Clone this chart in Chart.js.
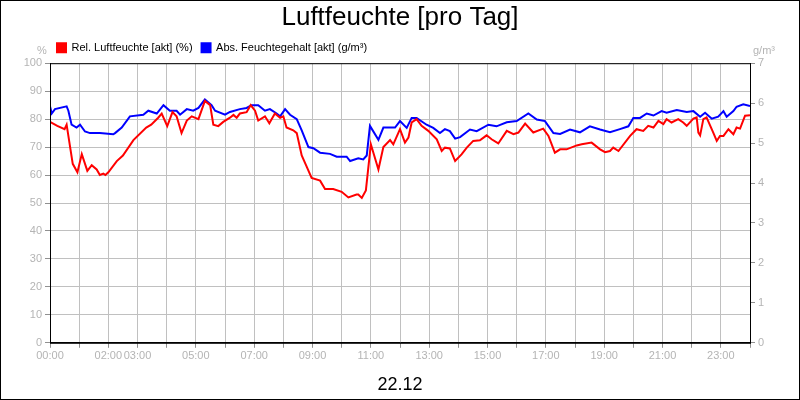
<!DOCTYPE html>
<html>
<head>
<meta charset="utf-8">
<script src="https://cdn.jsdelivr.net/npm/chart.js@4"></script>
<style>
  body { margin: 0; background: #fff; }
  #wrap { width: 800px; height: 400px; }
</style>
</head>
<body>
<div id="wrap"><canvas id="myChart"></canvas></div>
<script>
// relative humidity (%) - left axis
const redHours = [0, 0.25, 0.5, 0.57, 0.78, 0.94, 1.09, 1.28, 1.43, 1.6, 1.71, 1.83, 1.9, 2.0, 2.29, 2.5, 2.86, 3.3, 3.47, 3.71, 3.83, 4.02, 4.2, 4.34, 4.51, 4.69, 4.86, 5.09, 5.31, 5.49, 5.6, 5.77, 5.94, 6.17, 6.29, 6.4, 6.51, 6.74, 6.88, 7.03, 7.14, 7.37, 7.52, 7.71, 7.89, 8.0, 8.11, 8.34, 8.46, 8.63, 8.8, 8.97, 9.26, 9.43, 9.71, 10.0, 10.23, 10.51, 10.57, 10.69, 10.83, 11.0, 11.26, 11.43, 11.66, 11.77, 12.0,
  12.17, 12.29, 12.4, 12.57, 12.74, 12.97, 13.26, 13.43, 13.54, 13.71, 13.89, 14.11, 14.29, 14.51, 14.74, 14.97, 15.14, 15.37, 15.66, 15.89, 16.06, 16.29, 16.57, 16.91, 17.09, 17.31, 17.49, 17.71, 18.06, 18.23, 18.57, 18.86, 19.03, 19.2, 19.31, 19.49, 19.89, 20.11, 20.34, 20.51, 20.69, 20.86, 21.03, 21.14, 21.31, 21.54, 21.71, 21.83, 22.06, 22.17, 22.23, 22.29, 22.4, 22.51, 22.74, 22.86, 22.97, 23.09, 23.26, 23.43, 23.54, 23.66, 23.83, 24.0];
const redValues = [79, 77.6, 76.4, 78, 64, 61, 67.5, 61.5, 63.5, 62, 60, 60.5, 60, 61, 65, 67, 72.5, 77, 78, 80.5, 82, 77.5, 82.5, 81, 75, 79.5, 81, 80, 86.5, 85, 78, 77.5, 79, 80.5, 81.5, 80.5, 82, 82.5, 85, 83, 79.5, 81, 78.5, 82, 80.5, 81, 77, 76, 75, 67, 63, 59, 58, 55, 55, 54, 52, 53, 53, 51.8, 54.5, 71, 62, 70, 72.5, 71, 76.4,
  71.6, 73.4, 78.8, 80, 77.6, 75.8, 72.8, 68.6, 69.8, 69.5, 65, 67.4, 69.8, 72.2, 72.4, 74.2, 72.8, 71.3, 75.8, 74.6, 75.2, 78.4, 75.2, 76.6, 74, 68, 69.2, 69.2, 70.6, 71, 71.6, 69.2, 68.2, 68.6, 69.8, 68.6, 74, 76.4, 75.8, 77.6, 77, 79.4, 78.2, 80, 78.8, 80, 78.8, 77.6, 80.2, 80.6, 75.2, 74.2, 80, 80.6, 75.2, 72.2, 74, 74, 76.4, 74.6, 77, 76.6, 81.2, 81.4];

// absolute humidity (g/m³) - right axis
const blueHours = [0, 0.06, 0.17, 0.57, 0.63, 0.74, 0.91, 1.03, 1.2, 1.37, 1.71, 2.17, 2.23, 2.46, 2.74, 3.2, 3.37, 3.66, 3.89, 4.11, 4.34, 4.46, 4.69, 4.91, 5.09, 5.31, 5.54, 5.66, 6.0, 6.17, 6.51, 6.74, 6.91, 7.14, 7.37, 7.54, 7.77, 7.89, 8.06, 8.23, 8.46, 8.63, 8.86, 9.03, 9.26, 9.6, 9.83, 10.17, 10.29, 10.57, 10.74, 10.86, 10.97, 11.26, 11.43, 11.83, 12.0,
  12.23, 12.4, 12.57, 12.91, 13.14, 13.37, 13.54, 13.71, 13.89, 14.06, 14.4, 14.63, 15.03, 15.31, 15.66, 16.0, 16.4, 16.69, 16.97, 17.26, 17.49, 17.83, 18.17, 18.51, 18.86, 19.2, 19.54, 19.83, 20.0, 20.23, 20.46, 20.69, 20.97, 21.14, 21.49, 21.83, 22.06, 22.29, 22.46, 22.69, 22.91, 23.09, 23.2, 23.43, 23.54, 23.77, 24.0];
const blueValues = [5.92, 5.74, 5.85, 5.92, 5.81, 5.46, 5.39, 5.46, 5.29, 5.25, 5.25, 5.22, 5.25, 5.39, 5.67, 5.71, 5.81, 5.74, 5.95, 5.81, 5.81, 5.71, 5.85, 5.81, 5.88, 6.09, 5.95, 5.81, 5.71, 5.78, 5.85, 5.88, 5.95, 5.95, 5.81, 5.85, 5.74, 5.67, 5.85, 5.71, 5.6, 5.32, 4.9, 4.87, 4.76, 4.73, 4.66, 4.66, 4.55, 4.62, 4.59, 4.69, 5.43, 5.08, 5.39, 5.39, 5.55,
  5.38, 5.63, 5.63, 5.46, 5.38, 5.25, 5.35, 5.30, 5.11, 5.15, 5.34, 5.30, 5.46, 5.42, 5.52, 5.55, 5.74, 5.59, 5.55, 5.25, 5.23, 5.34, 5.27, 5.42, 5.34, 5.27, 5.35, 5.42, 5.63, 5.63, 5.74, 5.69, 5.80, 5.76, 5.83, 5.78, 5.80, 5.66, 5.76, 5.61, 5.66, 5.80, 5.66, 5.80, 5.91, 5.97, 5.93];

const hourLabels = [0, 2, 3, 5, 7, 9, 11, 13, 15, 17, 19, 21, 23];

const toPoints = (xs, ys) => xs.map((x, i) => ({ x: x, y: ys[i] }));
const tickGray = '#b4b4b4';

// frame, chart area border, unit labels and date
const extras = {
    id: 'extras',
    afterLayout(chart) {
        // move legend to start at the plot's left edge
        if (chart.legend) {
            chart.legend.left += 48;
            chart.legend.right += 48;
        }
    },
    beforeDraw(chart) {
        const c = chart.ctx;
        c.save();
        c.fillStyle = '#fff';
        c.fillRect(0, 0, chart.width, chart.height);
        c.restore();
    },
    afterDraw(chart) {
        const c = chart.ctx;
        const a = chart.chartArea;
        c.save();
        c.strokeStyle = '#000';
        c.lineWidth = 1;
        c.strokeRect(a.left + 0.5, a.top + 0.5, a.right - a.left, a.bottom - a.top);
        c.strokeRect(0.5, 0.5, chart.width - 1, chart.height - 1);
        c.fillStyle = tickGray;
        c.font = '11px Arial, "Liberation Sans"';
        c.textAlign = 'center';
        c.fillText('%', 42, 51);
        c.fillText('g/m³', 764, 51);
        c.fillStyle = '#000';
        c.font = '18px Arial, "Liberation Sans"';
        c.fillText('22.12', 400, 385);
        c.restore();
    }
};

new Chart(document.getElementById('myChart').getContext('2d'), {
    type: 'line',
    data: {
        datasets: [
            {
                label: 'Rel. Luftfeuchte [akt] (%)',
                data: toPoints(redHours, redValues),
                borderColor: '#ff0000',
                backgroundColor: '#ff0000',
                borderWidth: 2,
                pointRadius: 0,
                yAxisID: 'y'
            },
            {
                label: 'Abs. Feuchtegehalt [akt] (g/m³)',
                data: toPoints(blueHours, blueValues),
                borderColor: '#0000ff',
                backgroundColor: '#0000ff',
                borderWidth: 2,
                pointRadius: 0,
                yAxisID: 'y2'
            }
        ]
    },
    options: {
        responsive: true,
        maintainAspectRatio: false,
        animation: false,
        layout: { padding: { left: 0, right: 0, top: 0, bottom: 35 } },
        plugins: {
            title: {
                display: true,
                text: 'Luftfeuchte [pro Tag]',
                color: '#000',
                font: { family: 'Arial, "Liberation Sans"', size: 26, weight: 'normal' },
                padding: { top: 2, bottom: 0 }
            },
            legend: {
                align: 'start',
                labels: {
                    boxWidth: 9,
                    boxHeight: 9,
                    color: '#000',
                    padding: 9,
                    font: { family: 'Arial, "Liberation Sans"', size: 11 }
                }
            },
            tooltip: { enabled: false }
        },
        scales: {
            x: {
                type: 'linear',
                min: 0,
                max: 24,
                grid: { color: '#c0c0c0', tickLength: 5, tickColor: '#909090' },
                border: { color: '#000' },
                ticks: {
                    stepSize: 1,
                    autoSkip: false,
                    maxRotation: 0,
                    color: tickGray,
                    padding: 2,
                    font: { family: 'Arial, "Liberation Sans"', size: 11 },
                    callback: v => hourLabels.includes(v) ? String(v).padStart(2, '0') + ':00' : ''
                }
            },
            y: {
                position: 'left',
                min: 0,
                max: 100,
                afterFit: s => { s.width = 50; },
                grid: { color: '#c0c0c0', tickLength: 5, tickColor: '#909090' },
                border: { color: '#000' },
                ticks: {
                    stepSize: 10,
                    color: tickGray,
                    padding: 3,
                    font: { family: 'Arial, "Liberation Sans"', size: 11 }
                }
            },
            y2: {
                position: 'right',
                min: 0,
                max: 7,
                afterFit: s => { s.width = 50; },
                grid: { drawOnChartArea: false, tickLength: 5, tickColor: '#909090' },
                border: { color: '#000' },
                ticks: {
                    stepSize: 1,
                    color: tickGray,
                    padding: 3,
                    font: { family: 'Arial, "Liberation Sans"', size: 11 }
                }
            }
        }
    },
    plugins: [extras]
});
</script>
</body>
</html>
